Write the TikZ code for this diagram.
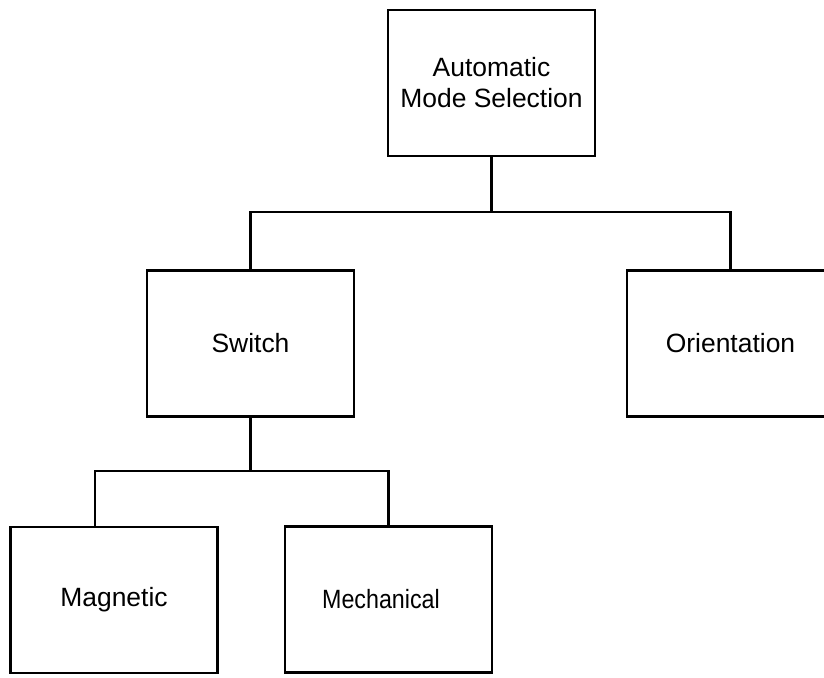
\documentclass[tikz,border=0pt]{standalone}
\usepackage{fontspec}
\setmainfont{Liberation Sans}
\usepackage{graphicx}
\usetikzlibrary{positioning, calc}

\begin{document}
\begin{tikzpicture}[
        x=0.025cm, y=-0.025cm,
        modebox/.style={
            rectangle, 
            minimum width=5.175cm, 
            minimum height=3.65cm, 
            align=center, 
            draw=black, 
            line width=1.6pt,
            inner sep=0pt,
            font=\fontsize{18.8}{22}\selectfont
        },
        link/.style={
            line width=1.6pt, 
            color=black
        }
    ]

    \clip (0,0) rectangle (824,678);
    \fill[white] (0,0) rectangle (824,678);

    \node (auto) [modebox] at (491.5,83) {Automatic \\ Mode Selection};

    \node (switch) [modebox] at (250.5,343.5) {Switch};

    \node (orient) [modebox] at (730.5,343.5) {Orientation};

    \node (magnet) [modebox] at (114,600) {Magnetic};

    \node (mechan) [modebox] at (388.5,599.5) {\scalebox{0.88}[1]{Mechanical}\hspace*{0.375cm}};

    
    \coordinate (upperbus) at (491.5,212);
    \coordinate (lowerbus) at (250.5,471);

    \draw [link] (auto.south) -- (upperbus);

    \draw [link] (switch.north) |- (upperbus) -| (orient.north);

    \draw [link] (switch.south) -- (lowerbus);

    \draw [link] ($(magnet.north)+(-19,0)$) |- (lowerbus) -| (mechan.north);

    \end{tikzpicture}
\end{document}
